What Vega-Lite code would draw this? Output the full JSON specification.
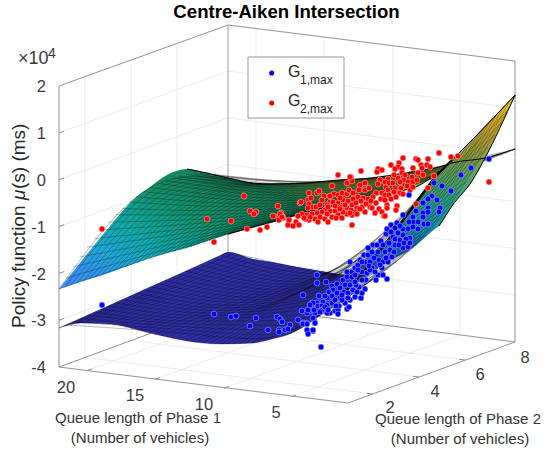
{"$schema":"https://vega.github.io/schema/vega-lite/v6.json","width":544,"height":452,"autosize":{"type":"fit","contains":"padding"},"padding":0,"background":"white","config":{"view":{"stroke":null},"text":{"font":"Liberation Sans"}},
"datasets":{
"grid":[{"l":"a1","x":85,"y":357.4},{"l":"a1","x":85,"y":76.6},{"l":"a2","x":131,"y":340.4},{"l":"a2","x":131,"y":60},{"l":"a3","x":177,"y":323.5},{"l":"a3","x":177,"y":43.5},
{"l":"b1","x":256,"y":308.6},{"l":"b1","x":256,"y":28.5},{"l":"b2","x":324,"y":317.4},{"l":"b2","x":324,"y":37},{"l":"b3","x":393,"y":326.3},{"l":"b3","x":393,"y":45.7},{"l":"b4","x":460,"y":334.9},{"l":"b4","x":460,"y":54},
{"l":"z1","x":59,"y":320.2},{"l":"z1","x":228,"y":258.2},{"l":"z1","x":515,"y":295.2},{"l":"z2","x":59,"y":273.4},{"l":"z2","x":228,"y":211.4},{"l":"z2","x":515,"y":248.4},{"l":"z3","x":59,"y":226.6},{"l":"z3","x":228,"y":164.6},{"l":"z3","x":515,"y":201.6},{"l":"z4","x":59,"y":179.8},{"l":"z4","x":228,"y":117.8},{"l":"z4","x":515,"y":154.8},{"l":"z5","x":59,"y":133},{"l":"z5","x":228,"y":71},{"l":"z5","x":515,"y":108},
{"l":"f1","x":85,"y":357.4},{"l":"f1","x":373,"y":394},{"l":"f2","x":131,"y":340.4},{"l":"f2","x":419,"y":377},{"l":"f3","x":177,"y":323.5},{"l":"f3","x":465,"y":360},
{"l":"g1","x":87,"y":370.6},{"l":"g1","x":256,"y":308.6},{"l":"g2","x":155,"y":379.4},{"l":"g2","x":324,"y":317.4},{"l":"g3","x":224,"y":388.3},{"l":"g3","x":393,"y":326.3},{"l":"g4","x":291,"y":396.9},{"l":"g4","x":460,"y":334.9}],
"axes":[{"l":"a","x":59,"y":86},{"l":"a","x":59,"y":367},{"l":"b","x":59,"y":86},{"l":"b","x":228,"y":25},{"l":"c","x":228,"y":25},{"l":"c","x":515,"y":61},{"l":"d","x":515,"y":61},{"l":"d","x":515,"y":342},{"l":"e","x":59,"y":367},{"l":"e","x":348,"y":403},{"l":"f","x":348,"y":403},{"l":"f","x":515,"y":342},{"l":"g","x":59,"y":367},{"l":"g","x":228,"y":305},{"l":"h","x":228,"y":305},{"l":"h","x":515,"y":342},
{"l":"t1","x":87,"y":370.6},{"l":"t1","x":92,"y":368.8},{"l":"t2","x":155,"y":379.4},{"l":"t2","x":160,"y":377.6},{"l":"t3","x":224,"y":388.3},{"l":"t3","x":229,"y":386.5},{"l":"t4","x":291,"y":396.9},{"l":"t4","x":296,"y":395.1},
{"l":"t5","x":373,"y":394},{"l":"t5","x":367,"y":393.3},{"l":"t6","x":419,"y":377},{"l":"t6","x":413,"y":376.3},{"l":"t7","x":465,"y":360},{"l":"t7","x":459,"y":359.3},
{"l":"t8","x":59,"y":320.2},{"l":"t8","x":64,"y":318.4},{"l":"t9","x":59,"y":273.4},{"l":"t9","x":64,"y":271.6},{"l":"t10","x":59,"y":226.6},{"l":"t10","x":64,"y":224.8},{"l":"t11","x":59,"y":179.8},{"l":"t11","x":64,"y":178},{"l":"t12","x":59,"y":133},{"l":"t12","x":64,"y":131.2}],
"back":[{"l":"v","x":228,"y":25},{"l":"v","x":228,"y":305}],
"s2":[{"x":59,"y":289,"y2":289},{"x":83,"y":259,"y2":281},{"x":100,"y":238,"y2":276},{"x":110,"y":226,"y2":272.5},{"x":133,"y":200,"y2":264},{"x":150,"y":187,"y2":258},{"x":167,"y":175,"y2":253},{"x":187,"y":169,"y2":248},{"x":207,"y":173,"y2":241},{"x":228,"y":178,"y2":234},{"x":253,"y":183,"y2":227},{"x":272,"y":184,"y2":222},{"x":305,"y":183,"y2":212.5},{"x":339,"y":180,"y2":204.5},{"x":347,"y":179.5,"y2":203},{"x":372,"y":178,"y2":196},{"x":405,"y":173,"y2":190},{"x":418,"y":170.5,"y2":186},{"x":439,"y":167,"y2":171},{"x":452,"y":163,"y2":165},{"x":485,"y":158,"y2":159},{"x":515,"y":149,"y2":149}],
"s1a":[{"x":59,"y":328,"y2":328},{"x":80,"y":318.5,"y2":323},{"x":110,"y":305,"y2":324},{"x":150,"y":287,"y2":333},{"x":187,"y":270.4,"y2":341},{"x":220,"y":255.5,"y2":344},{"x":228,"y":252,"y2":344},{"x":253,"y":259,"y2":343},{"x":272,"y":262,"y2":339},{"x":292,"y":266,"y2":333},{"x":315,"y":270,"y2":319},{"x":339,"y":274,"y2":298},{"x":347,"y":275,"y2":290}],
"s1b":[{"x":347,"y":275,"y2":290},{"x":370,"y":255,"y2":274.5},{"x":389,"y":238,"y2":261},{"x":392,"y":235,"y2":259.5},{"x":410,"y":211,"y2":250},{"x":435,"y":177,"y2":229},{"x":439,"y":173,"y2":226},{"x":452,"y":160,"y2":206},{"x":472,"y":140,"y2":181},{"x":485,"y":126,"y2":158},{"x":515,"y":95,"y2":95}],
"m2":[{"l":"k0","x":59,"y":289},{"l":"k0","x":144,"y":191.5},{"l":"k0","x":228,"y":178},{"l":"k1","x":71,"y":285},{"l":"k1","x":156,"y":194},{"l":"k1","x":240,"y":180.5},{"l":"k2","x":83,"y":281.5},{"l":"k2","x":168,"y":196},{"l":"k2","x":252,"y":183},{"l":"k3","x":95,"y":277.5},{"l":"k3","x":180,"y":198},{"l":"k3","x":264,"y":184},{"l":"k4","x":107,"y":273.5},{"l":"k4","x":192,"y":199},{"l":"k4","x":276,"y":184},{"l":"k5","x":119,"y":269},{"l":"k5","x":204,"y":199},{"l":"k5","x":288,"y":183.5},{"l":"k6","x":131,"y":265},{"l":"k6","x":216,"y":199},{"l":"k6","x":300,"y":183},{"l":"k7","x":143,"y":260.5},{"l":"k7","x":228,"y":199.5},{"l":"k7","x":312,"y":182.5},{"l":"k8","x":155,"y":256.5},{"l":"k8","x":240,"y":200},{"l":"k8","x":324,"y":181.5},{"l":"k9","x":167,"y":253},{"l":"k9","x":252,"y":200.5},{"l":"k9","x":336,"y":180},{"l":"k10","x":179,"y":250},{"l":"k10","x":264,"y":201},{"l":"k10","x":348,"y":179.5},{"l":"k11","x":191,"y":246.5},{"l":"k11","x":276,"y":201},{"l":"k11","x":360,"y":179},{"l":"k12","x":203,"y":243},{"l":"k12","x":288,"y":200.5},{"l":"k12","x":372,"y":178},{"l":"k13","x":215,"y":238.5},{"l":"k13","x":300,"y":199.5},{"l":"k13","x":384,"y":176.5},{"l":"k14","x":227,"y":234.5},{"l":"k14","x":312,"y":198.5},{"l":"k14","x":396,"y":174.5},{"l":"k15","x":239,"y":231},{"l":"k15","x":324,"y":198},{"l":"k15","x":408,"y":172.5},{"l":"k16","x":251,"y":228},{"l":"k16","x":336,"y":197},{"l":"k16","x":420,"y":170},{"l":"k17","x":263,"y":224.5},{"l":"k17","x":348,"y":195},{"l":"k17","x":432,"y":168},{"l":"k18","x":275,"y":221},{"l":"k18","x":360,"y":193},{"l":"k18","x":444,"y":165.5},{"l":"k19","x":287,"y":217.5},{"l":"k19","x":372,"y":191},{"l":"k19","x":456,"y":162.5},{"l":"k20","x":299,"y":213},{"l":"k20","x":384,"y":188},{"l":"k20","x":468,"y":160.5},{"l":"k21","x":311,"y":210.5},{"l":"k21","x":396,"y":187},{"l":"k21","x":480,"y":159},{"l":"k22","x":323,"y":208},{"l":"k22","x":408,"y":184},{"l":"k22","x":492,"y":156},{"l":"k23","x":335,"y":205.5},{"l":"k23","x":420,"y":182},{"l":"k23","x":504,"y":152.5},{"l":"k24","x":347,"y":203},{"l":"k24","x":432,"y":179},{"l":"k24","x":516,"y":149},
{"l":"h0","x":65,"y":287},{"l":"h0","x":150,"y":192.75},{"l":"h0","x":234,"y":179.25},{"l":"h1","x":77,"y":283.25},{"l":"h1","x":162,"y":195},{"l":"h1","x":246,"y":181.75},{"l":"h2","x":89,"y":279.5},{"l":"h2","x":174,"y":197},{"l":"h2","x":258,"y":183.5},{"l":"h3","x":101,"y":275.5},{"l":"h3","x":186,"y":198.5},{"l":"h3","x":270,"y":184},{"l":"h4","x":113,"y":271.25},{"l":"h4","x":198,"y":199},{"l":"h4","x":282,"y":183.75},{"l":"h5","x":125,"y":267},{"l":"h5","x":210,"y":199},{"l":"h5","x":294,"y":183.25},{"l":"h6","x":137,"y":262.75},{"l":"h6","x":222,"y":199.25},{"l":"h6","x":306,"y":182.75},{"l":"h7","x":149,"y":258.5},{"l":"h7","x":234,"y":199.75},{"l":"h7","x":318,"y":182},{"l":"h8","x":161,"y":254.75},{"l":"h8","x":246,"y":200.25},{"l":"h8","x":330,"y":180.75},{"l":"h9","x":173,"y":251.5},{"l":"h9","x":258,"y":200.75},{"l":"h9","x":342,"y":179.75},{"l":"h10","x":185,"y":248.25},{"l":"h10","x":270,"y":201},{"l":"h10","x":354,"y":179.25},{"l":"h11","x":197,"y":244.75},{"l":"h11","x":282,"y":200.75},{"l":"h11","x":366,"y":178.5},{"l":"h12","x":209,"y":240.75},{"l":"h12","x":294,"y":200},{"l":"h12","x":378,"y":177.25},{"l":"h13","x":221,"y":236.5},{"l":"h13","x":306,"y":199},{"l":"h13","x":390,"y":175.5},{"l":"h14","x":233,"y":232.75},{"l":"h14","x":318,"y":198.25},{"l":"h14","x":402,"y":173.5},{"l":"h15","x":245,"y":229.5},{"l":"h15","x":330,"y":197.5},{"l":"h15","x":414,"y":171.25},{"l":"h16","x":257,"y":226.25},{"l":"h16","x":342,"y":196},{"l":"h16","x":426,"y":169},{"l":"h17","x":269,"y":222.75},{"l":"h17","x":354,"y":194},{"l":"h17","x":438,"y":166.75},{"l":"h18","x":281,"y":219.25},{"l":"h18","x":366,"y":192},{"l":"h18","x":450,"y":164},{"l":"h19","x":293,"y":215.25},{"l":"h19","x":378,"y":189.5},{"l":"h19","x":462,"y":161.5},{"l":"h20","x":305,"y":211.75},{"l":"h20","x":390,"y":187.5},{"l":"h20","x":474,"y":159.75},{"l":"h21","x":317,"y":209.25},{"l":"h21","x":402,"y":185.5},{"l":"h21","x":486,"y":157.5},{"l":"h22","x":329,"y":206.75},{"l":"h22","x":414,"y":183},{"l":"h22","x":498,"y":154.25},{"l":"h23","x":341,"y":204.25},{"l":"h23","x":426,"y":180.5},{"l":"h23","x":510,"y":150.75},
{"l":"j0","x":59,"y":289},{"l":"j0","x":155,"y":256.5},{"l":"j0","x":251,"y":228},{"l":"j0","x":347,"y":203},
{"l":"j1","x":73,"y":266.9},{"l":"j1","x":169,"y":244.5},{"l":"j1","x":265,"y":222.6},{"l":"j1","x":361,"y":199.5},
{"l":"j2","x":87,"y":247.2},{"l":"j2","x":183,"y":233.4},{"l":"j2","x":279,"y":217.3},{"l":"j2","x":375,"y":195.6},
{"l":"j3","x":101,"y":229.7},{"l":"j3","x":197,"y":223.5},{"l":"j3","x":293,"y":212},{"l":"j3","x":389,"y":191.8},
{"l":"j4","x":115,"y":214.6},{"l":"j4","x":211,"y":214.6},{"l":"j4","x":307,"y":206.9},{"l":"j4","x":403,"y":187.6},
{"l":"j5","x":129,"y":201.9},{"l":"j5","x":225,"y":206.7},{"l":"j5","x":321,"y":201.9},{"l":"j5","x":417,"y":183.4},
{"l":"j6","x":143.5,"y":191.5},{"l":"j6","x":239.5,"y":200},{"l":"j6","x":335.5,"y":197},{"l":"j6","x":431.5,"y":179},
{"l":"j7","x":157.6,"y":183.4},{"l":"j7","x":253.6,"y":194.2},{"l":"j7","x":349.6,"y":192.2},{"l":"j7","x":445.6,"y":174.4},
{"l":"j8","x":172,"y":177.7},{"l":"j8","x":268,"y":189.6},{"l":"j8","x":364,"y":187.6},{"l":"j8","x":460,"y":169.6},
{"l":"j9","x":186,"y":174.3},{"l":"j9","x":282,"y":186},{"l":"j9","x":378,"y":183.1},{"l":"j9","x":474,"y":164.8},
{"l":"j10","x":200,"y":173.2},{"l":"j10","x":296,"y":183.4},{"l":"j10","x":392,"y":178.7},{"l":"j10","x":488,"y":159.6},
{"l":"j11","x":214,"y":174.4},{"l":"j11","x":310,"y":182},{"l":"j11","x":406,"y":174.3},{"l":"j11","x":502,"y":154.4},
{"l":"j12","x":228,"y":178},{"l":"j12","x":324,"y":181.5},{"l":"j12","x":420,"y":170},{"l":"j12","x":516,"y":149},
{"l":"i0","x":66,"y":278},{"l":"i0","x":162,"y":250.5},{"l":"i0","x":258,"y":225.3},{"l":"i0","x":354,"y":201.25},
{"l":"i1","x":80,"y":257},{"l":"i1","x":176,"y":239},{"l":"i1","x":272,"y":220},{"l":"i1","x":368,"y":197.5},
{"l":"i2","x":94,"y":238.5},{"l":"i2","x":190,"y":228.5},{"l":"i2","x":286,"y":214.7},{"l":"i2","x":382,"y":193.7},
{"l":"i3","x":108,"y":222.2},{"l":"i3","x":204,"y":219},{"l":"i3","x":300,"y":209.5},{"l":"i3","x":396,"y":189.7},
{"l":"i4","x":122,"y":208.3},{"l":"i4","x":218,"y":210.7},{"l":"i4","x":314,"y":204.4},{"l":"i4","x":410,"y":185.5},
{"l":"i5","x":136,"y":196.7},{"l":"i5","x":232,"y":203.4},{"l":"i5","x":328,"y":199.5},{"l":"i5","x":424,"y":181.2},
{"l":"i6","x":150.5,"y":187.5},{"l":"i6","x":246.5,"y":197.1},{"l":"i6","x":342.5,"y":194.6},{"l":"i6","x":438.5,"y":176.7},
{"l":"i7","x":165,"y":180.5},{"l":"i7","x":261,"y":191.9},{"l":"i7","x":357,"y":189.9},{"l":"i7","x":453,"y":172},
{"l":"i8","x":179,"y":176},{"l":"i8","x":275,"y":187.8},{"l":"i8","x":371,"y":185.4},{"l":"i8","x":467,"y":167.2},
{"l":"i9","x":193,"y":173.7},{"l":"i9","x":289,"y":184.7},{"l":"i9","x":385,"y":180.9},{"l":"i9","x":481,"y":162.2},
{"l":"i10","x":207,"y":173.8},{"l":"i10","x":303,"y":182.7},{"l":"i10","x":399,"y":176.5},{"l":"i10","x":495,"y":157},
{"l":"i11","x":221,"y":176.2},{"l":"i11","x":317,"y":181.7},{"l":"i11","x":413,"y":172.2},{"l":"i11","x":509,"y":151.7}],
"m1":[{"l":"k0","x":59,"y":328},{"l":"k0","x":144,"y":290},{"l":"k0","x":228,"y":252},{"l":"k1","x":71,"y":325},{"l":"k1","x":156,"y":290},{"l":"k1","x":240,"y":254.7},{"l":"k2","x":83,"y":323},{"l":"k2","x":168,"y":290.2},{"l":"k2","x":252,"y":257.5},{"l":"k3","x":95,"y":323},{"l":"k3","x":180,"y":291.5},{"l":"k3","x":264,"y":260},{"l":"k4","x":107,"y":324},{"l":"k4","x":192,"y":293.5},{"l":"k4","x":276,"y":263},{"l":"k5","x":119,"y":326},{"l":"k5","x":204,"y":295.5},{"l":"k5","x":288,"y":265},{"l":"k6","x":131,"y":329},{"l":"k6","x":216,"y":298},{"l":"k6","x":300,"y":267},{"l":"k7","x":143,"y":331},{"l":"k7","x":228,"y":300},{"l":"k7","x":312,"y":269},{"l":"k8","x":155,"y":334},{"l":"k8","x":240,"y":302.5},{"l":"k8","x":324,"y":271},{"l":"k9","x":167,"y":337},{"l":"k9","x":252,"y":305},{"l":"k9","x":336,"y":273},{"l":"k10","x":179,"y":339},{"l":"k10","x":264,"y":305.75},{"l":"k10","x":348,"y":272.5},{"l":"k11","x":191,"y":341.5},{"l":"k11","x":276,"y":303},{"l":"k11","x":360,"y":262},{"l":"k12","x":203,"y":342.5},{"l":"k12","x":288,"y":299},{"l":"k12","x":372,"y":252},{"l":"k13","x":215,"y":344},{"l":"k13","x":300,"y":297},{"l":"k13","x":384,"y":242},{"l":"k14","x":227,"y":344},{"l":"k14","x":312,"y":293},{"l":"k14","x":396,"y":230},{"l":"k15","x":239,"y":343.5},{"l":"k15","x":324,"y":287},{"l":"k15","x":408,"y":213},{"l":"k16","x":251,"y":343},{"l":"k16","x":336,"y":282},{"l":"k16","x":420,"y":197},{"l":"k17","x":263,"y":341},{"l":"k17","x":348,"y":276},{"l":"k17","x":432,"y":181},{"l":"k18","x":275,"y":338},{"l":"k18","x":360,"y":271},{"l":"k18","x":444,"y":168},{"l":"k19","x":287,"y":335},{"l":"k19","x":372,"y":266.5},{"l":"k19","x":456,"y":156},{"l":"k20","x":299,"y":329},{"l":"k20","x":384,"y":261.5},{"l":"k20","x":468,"y":144},{"l":"k21","x":311,"y":321.5},{"l":"k21","x":396,"y":254},{"l":"k21","x":480,"y":132},{"l":"k22","x":323,"y":312},{"l":"k22","x":408,"y":245},{"l":"k22","x":492,"y":118},{"l":"k23","x":335,"y":302},{"l":"k23","x":420,"y":237},{"l":"k23","x":504,"y":106},{"l":"k24","x":347,"y":290},{"l":"k24","x":432,"y":228},{"l":"k24","x":516,"y":95},
{"l":"h0","x":65,"y":326.5},{"l":"h0","x":150,"y":290},{"l":"h0","x":234,"y":253.4},{"l":"h1","x":77,"y":324},{"l":"h1","x":162,"y":290.1},{"l":"h1","x":246,"y":256.1},{"l":"h2","x":89,"y":323},{"l":"h2","x":174,"y":290.9},{"l":"h2","x":258,"y":258.8},{"l":"h3","x":101,"y":323.5},{"l":"h3","x":186,"y":292.5},{"l":"h3","x":270,"y":261.5},{"l":"h4","x":113,"y":325},{"l":"h4","x":198,"y":294.5},{"l":"h4","x":282,"y":264},{"l":"h5","x":125,"y":327.5},{"l":"h5","x":210,"y":296.8},{"l":"h5","x":294,"y":266},{"l":"h6","x":137,"y":330},{"l":"h6","x":222,"y":299},{"l":"h6","x":306,"y":268},{"l":"h7","x":149,"y":332.5},{"l":"h7","x":234,"y":301.3},{"l":"h7","x":318,"y":270},{"l":"h8","x":161,"y":335.5},{"l":"h8","x":246,"y":303.8},{"l":"h8","x":330,"y":272},{"l":"h9","x":173,"y":338},{"l":"h9","x":258,"y":305.4},{"l":"h9","x":342,"y":272.8},{"l":"h10","x":185,"y":340.3},{"l":"h10","x":270,"y":304.4},{"l":"h10","x":354,"y":267.3},{"l":"h11","x":197,"y":342},{"l":"h11","x":282,"y":301},{"l":"h11","x":366,"y":257},{"l":"h12","x":209,"y":343.3},{"l":"h12","x":294,"y":298},{"l":"h12","x":378,"y":247},{"l":"h13","x":221,"y":344},{"l":"h13","x":306,"y":295},{"l":"h13","x":390,"y":236},{"l":"h14","x":233,"y":343.8},{"l":"h14","x":318,"y":290},{"l":"h14","x":402,"y":221.5},{"l":"h15","x":245,"y":343.3},{"l":"h15","x":330,"y":284.5},{"l":"h15","x":414,"y":205},{"l":"h16","x":257,"y":342},{"l":"h16","x":342,"y":279},{"l":"h16","x":426,"y":189},{"l":"h17","x":269,"y":339.5},{"l":"h17","x":354,"y":273.5},{"l":"h17","x":438,"y":174.5},{"l":"h18","x":281,"y":336.5},{"l":"h18","x":366,"y":268.8},{"l":"h18","x":450,"y":162},{"l":"h19","x":293,"y":332},{"l":"h19","x":378,"y":264},{"l":"h19","x":462,"y":150},{"l":"h20","x":305,"y":325.3},{"l":"h20","x":390,"y":257.8},{"l":"h20","x":474,"y":138},{"l":"h21","x":317,"y":316.8},{"l":"h21","x":402,"y":249.5},{"l":"h21","x":486,"y":125},{"l":"h22","x":329,"y":307},{"l":"h22","x":414,"y":241},{"l":"h22","x":498,"y":112},{"l":"h23","x":341,"y":296},{"l":"h23","x":426,"y":232.5},{"l":"h23","x":510,"y":100.5},
{"l":"j0","x":59,"y":328},{"l":"j0","x":80,"y":323},{"l":"j0","x":110,"y":324},{"l":"j0","x":150,"y":333},{"l":"j0","x":187,"y":341},{"l":"j0","x":220,"y":344},{"l":"j0","x":253,"y":343},{"l":"j0","x":272,"y":339},{"l":"j0","x":292,"y":333},{"l":"j0","x":315,"y":319},{"l":"j0","x":339,"y":298},{"l":"j0","x":347,"y":290},
{"l":"j1","x":73,"y":321.7},{"l":"j1","x":169,"y":328.8},{"l":"j1","x":265,"y":334.6},{"l":"j1","x":361,"y":284.7},
{"l":"j2","x":87,"y":315.3},{"l":"j2","x":183,"y":323.6},{"l":"j2","x":279,"y":325.4},{"l":"j2","x":375,"y":277.2},
{"l":"j3","x":101,"y":309},{"l":"j3","x":197,"y":318.3},{"l":"j3","x":293,"y":315.5},{"l":"j3","x":389,"y":267.9},
{"l":"j4","x":115,"y":302.7},{"l":"j4","x":211,"y":313},{"l":"j4","x":307,"y":305},{"l":"j4","x":403,"y":256.5},
{"l":"j5","x":129,"y":296.3},{"l":"j5","x":225,"y":307.8},{"l":"j5","x":321,"y":293.8},{"l":"j5","x":417,"y":243.3},
{"l":"j6","x":143.5,"y":290},{"l":"j6","x":239.5,"y":302.5},{"l":"j6","x":335.5,"y":282},{"l":"j6","x":431.5,"y":228},
{"l":"j7","x":157.6,"y":283.7},{"l":"j7","x":253.6,"y":297.2},{"l":"j7","x":349.6,"y":269.5},{"l":"j7","x":445.6,"y":210.8},
{"l":"j8","x":172,"y":277.3},{"l":"j8","x":268,"y":292},{"l":"j8","x":364,"y":256.4},{"l":"j8","x":460,"y":191.6},
{"l":"j9","x":186,"y":271},{"l":"j9","x":282,"y":286.7},{"l":"j9","x":378,"y":242.5},{"l":"j9","x":474,"y":170.3},
{"l":"j10","x":200,"y":264.7},{"l":"j10","x":296,"y":281.6},{"l":"j10","x":392,"y":228.1},{"l":"j10","x":488,"y":147.3},
{"l":"j11","x":214,"y":258.3},{"l":"j11","x":310,"y":276.2},{"l":"j11","x":406,"y":212.9},{"l":"j11","x":502,"y":122.2},
{"l":"j12","x":228,"y":252},{"l":"j12","x":272,"y":262},{"l":"j12","x":345,"y":275},{"l":"j12","x":392,"y":235},{"l":"j12","x":435,"y":177},{"l":"j12","x":472,"y":140},{"l":"j12","x":516,"y":95},
{"l":"i0","x":66,"y":324.9},{"l":"i0","x":162,"y":331.4},{"l":"i0","x":258,"y":338.8},{"l":"i0","x":354,"y":287.4},
{"l":"i1","x":80,"y":318.5},{"l":"i1","x":176,"y":326.2},{"l":"i1","x":272,"y":330},{"l":"i1","x":368,"y":281},
{"l":"i2","x":94,"y":312.2},{"l":"i2","x":190,"y":321},{"l":"i2","x":286,"y":320.5},{"l":"i2","x":382,"y":272.6},
{"l":"i3","x":108,"y":305.9},{"l":"i3","x":204,"y":315.7},{"l":"i3","x":300,"y":310.3},{"l":"i3","x":396,"y":262.2},
{"l":"i4","x":122,"y":299.5},{"l":"i4","x":218,"y":310.4},{"l":"i4","x":314,"y":299.4},{"l":"i4","x":410,"y":249.9},
{"l":"i5","x":136,"y":293.2},{"l":"i5","x":232,"y":305.2},{"l":"i5","x":328,"y":287.9},{"l":"i5","x":424,"y":235.7},
{"l":"i6","x":150.5,"y":286.9},{"l":"i6","x":246.5,"y":299.9},{"l":"i6","x":342.5,"y":275.8},{"l":"i6","x":438.5,"y":219.4},
{"l":"i7","x":165,"y":280.5},{"l":"i7","x":261,"y":294.6},{"l":"i7","x":357,"y":263},{"l":"i7","x":453,"y":201.2},
{"l":"i8","x":179,"y":274.2},{"l":"i8","x":275,"y":289.4},{"l":"i8","x":371,"y":249.5},{"l":"i8","x":467,"y":181},
{"l":"i9","x":193,"y":267.9},{"l":"i9","x":289,"y":284.2},{"l":"i9","x":385,"y":235.3},{"l":"i9","x":481,"y":158.8},
{"l":"i10","x":207,"y":261.5},{"l":"i10","x":303,"y":278.9},{"l":"i10","x":399,"y":220.5},{"l":"i10","x":495,"y":134.8},
{"l":"i11","x":221,"y":255.2},{"l":"i11","x":317,"y":273.6},{"l":"i11","x":413,"y":205},{"l":"i11","x":509,"y":108.6}],
"edges":[{"l":"a","x":187,"y":169},{"l":"a","x":207,"y":173},{"l":"a","x":228,"y":178},{"l":"a","x":253,"y":183},{"l":"a","x":272,"y":184},{"l":"a","x":305,"y":183},{"l":"a","x":339,"y":180},{"l":"a","x":372,"y":178},{"l":"a","x":405,"y":173},{"l":"a","x":439,"y":167},{"l":"a","x":452,"y":163},{"l":"a","x":485,"y":158},{"l":"a","x":515,"y":149},
{"l":"b","x":228,"y":234},{"l":"b","x":253,"y":227},{"l":"b","x":272,"y":222},{"l":"b","x":305,"y":212.5},{"l":"b","x":339,"y":204.5},{"l":"b","x":347,"y":203},{"l":"b","x":372,"y":196},{"l":"b","x":405,"y":190},{"l":"b","x":418,"y":186},{"l":"b","x":439,"y":171},
{"l":"c","x":339,"y":298},{"l":"c","x":360,"y":277},{"l":"c","x":392,"y":235},{"l":"c","x":435,"y":177},{"l":"c","x":452,"y":160},
{"l":"d","x":452,"y":160},{"l":"d","x":472,"y":140},{"l":"d","x":515,"y":95},{"l":"e","x":439,"y":226},{"l":"e","x":452,"y":206},{"l":"e","x":472,"y":181},{"l":"e","x":485,"y":158},{"l":"e","x":515,"y":95}],
"red":[{"x":102,"y":229},{"x":214,"y":242},{"x":247,"y":229},{"x":260,"y":230},{"x":267,"y":227},{"x":244,"y":196},{"x":207,"y":219},{"x":231,"y":221},{"x":250,"y":211},{"x":256,"y":212},{"x":254,"y":214},{"x":278,"y":206},{"x":273,"y":216},{"x":281,"y":213},{"x":279,"y":216},{"x":283,"y":217},{"x":279,"y":220},{"x":289,"y":220},{"x":288,"y":225},{"x":298,"y":216},{"x":300,"y":203},{"x":338,"y":175},{"x":361,"y":171},{"x":351,"y":177},{"x":378,"y":169},{"x":377,"y":172},{"x":347,"y":183},{"x":352,"y":181},{"x":380,"y":180},{"x":332,"y":186},{"x":365,"y":183},{"x":360,"y":185},{"x":378,"y":184},{"x":309,"y":193},{"x":317,"y":193},{"x":319,"y":191},{"x":324,"y":196},{"x":322,"y":200},{"x":308,"y":200},{"x":301,"y":202},{"x":309,"y":204},{"x":313,"y":207},{"x":308,"y":208},{"x":316,"y":207},{"x":330,"y":202},{"x":334,"y":194},{"x":338,"y":195},{"x":342,"y":193},{"x":347,"y":194},{"x":349,"y":190},{"x":353,"y":193},{"x":359,"y":190},{"x":365,"y":190},{"x":369,"y":188},{"x":376,"y":193},{"x":382,"y":193},{"x":386,"y":187},{"x":388,"y":195},{"x":333,"y":202},{"x":338,"y":203},{"x":343,"y":200},{"x":348,"y":201},{"x":353,"y":199},{"x":358,"y":197},{"x":363,"y":198},{"x":368,"y":199},{"x":373,"y":197},{"x":337,"y":207},{"x":342,"y":207},{"x":347,"y":208},{"x":352,"y":205},{"x":357,"y":208},{"x":362,"y":207},{"x":325,"y":210},{"x":330,"y":211},{"x":335,"y":211},{"x":322,"y":212},{"x":317,"y":213},{"x":312,"y":214},{"x":307,"y":215},{"x":302,"y":214},{"x":298,"y":216},{"x":320,"y":217},{"x":315,"y":219},{"x":309,"y":220},{"x":306,"y":219},{"x":325,"y":219},{"x":332,"y":217},{"x":327,"y":214},{"x":338,"y":215},{"x":347,"y":214},{"x":352,"y":215},{"x":343,"y":212},{"x":355,"y":212},{"x":360,"y":209},{"x":370,"y":207},{"x":372,"y":208},{"x":379,"y":209},{"x":382,"y":212},{"x":384,"y":216},{"x":352,"y":225},{"x":288,"y":225},{"x":289,"y":220},{"x":283,"y":218},{"x":280,"y":214},{"x":282,"y":217},{"x":403,"y":158},{"x":416,"y":159},{"x":418,"y":160},{"x":428,"y":159},{"x":439,"y":153},{"x":451,"y":157},{"x":391,"y":165},{"x":399,"y":163},{"x":398,"y":167},{"x":395,"y":169},{"x":402,"y":169},{"x":413,"y":168},{"x":421,"y":165},{"x":427,"y":165},{"x":430,"y":167},{"x":422,"y":168},{"x":418,"y":173},{"x":423,"y":175},{"x":434,"y":176},{"x":412,"y":177},{"x":402,"y":173},{"x":398,"y":178},{"x":404,"y":180},{"x":408,"y":182},{"x":413,"y":182},{"x":388,"y":179},{"x":385,"y":182},{"x":389,"y":183},{"x":393,"y":183},{"x":400,"y":182},{"x":395,"y":188},{"x":401,"y":188},{"x":410,"y":190},{"x":388,"y":190},{"x":385,"y":195},{"x":389,"y":195},{"x":394,"y":192},{"x":400,"y":193},{"x":428,"y":188},{"x":416,"y":204},{"x":397,"y":206},{"x":396,"y":210},{"x":387,"y":205},{"x":387,"y":208},{"x":385,"y":216},{"x":489,"y":182},{"x":458,"y":156},{"x":382,"y":170},{"x":350,"y":177},{"x":311,"y":198},{"x":327,"y":205},{"x":340,"y":198},{"x":345,"y":205},{"x":351,"y":210},{"x":356,"y":203},{"x":361,"y":201},{"x":366,"y":204},{"x":371,"y":201},{"x":376,"y":203},{"x":381,"y":199},{"x":385,"y":200},{"x":391,"y":199},{"x":396,"y":197},{"x":403,"y":194},{"x":407,"y":186},{"x":413,"y":187},{"x":417,"y":180},{"x":394,"y":175},{"x":405,"y":175},{"x":330,"y":196},{"x":320,"y":205},{"x":328,"y":207},{"x":335,"y":206},{"x":340,"y":209},{"x":350,"y":213},{"x":357,"y":214},{"x":365,"y":212},{"x":375,"y":213},{"x":296,"y":222},{"x":304,"y":218},{"x":310,"y":217},{"x":336,"y":218},{"x":342,"y":218},{"x":318,"y":222},{"x":328,"y":222},{"x":293,"y":226},{"x":299,"y":225}],
"blue":[{"x":102,"y":305},{"x":214,"y":314},{"x":231,"y":317},{"x":236,"y":316},{"x":256,"y":318},{"x":250,"y":326},{"x":268,"y":330},{"x":277,"y":317},{"x":280,"y":319},{"x":282,"y":322},{"x":290,"y":325},{"x":279,"y":330},{"x":279,"y":332},{"x":285,"y":330},{"x":288,"y":329},{"x":298,"y":320},{"x":303,"y":323},{"x":307,"y":323},{"x":302,"y":311},{"x":303,"y":295},{"x":309,"y":311},{"x":307,"y":313},{"x":312,"y":303},{"x":317,"y":303},{"x":314,"y":320},{"x":315,"y":323},{"x":307,"y":330},{"x":313,"y":331},{"x":308,"y":334},{"x":317,"y":308},{"x":315,"y":313},{"x":321,"y":347},{"x":317,"y":275},{"x":317,"y":283},{"x":326,"y":282},{"x":350,"y":262},{"x":332,"y":286},{"x":337,"y":284},{"x":333,"y":290},{"x":329,"y":292},{"x":319,"y":296},{"x":332,"y":296},{"x":327,"y":298},{"x":323,"y":302},{"x":313,"y":303},{"x":308,"y":310},{"x":314,"y":310},{"x":318,"y":306},{"x":322,"y":306},{"x":327,"y":305},{"x":332,"y":303},{"x":337,"y":293},{"x":340,"y":288},{"x":343,"y":280},{"x":347,"y":272},{"x":352,"y":272},{"x":355,"y":268},{"x":347,"y":277},{"x":352,"y":277},{"x":345,"y":285},{"x":350,"y":285},{"x":355,"y":275},{"x":358,"y":265},{"x":360,"y":260},{"x":364,"y":255},{"x":368,"y":255},{"x":365,"y":262},{"x":370,"y":262},{"x":362,"y":272},{"x":367,"y":273},{"x":372,"y":268},{"x":366,"y":280},{"x":376,"y":280},{"x":378,"y":275},{"x":383,"y":275},{"x":387,"y":279},{"x":382,"y":268},{"x":379,"y":260},{"x":383,"y":262},{"x":388,"y":262},{"x":374,"y":258},{"x":385,"y":252},{"x":390,"y":250},{"x":394,"y":252},{"x":373,"y":245},{"x":377,"y":245},{"x":381,"y":241},{"x":368,"y":248},{"x":389,"y":243},{"x":395,"y":245},{"x":400,"y":240},{"x":405,"y":240},{"x":397,"y":232},{"x":386,"y":234},{"x":403,"y":248},{"x":408,"y":247},{"x":335,"y":311},{"x":338,"y":310},{"x":347,"y":309},{"x":349,"y":307},{"x":339,"y":306},{"x":345,"y":303},{"x":350,"y":300},{"x":355,"y":297},{"x":361,"y":298},{"x":362,"y":293},{"x":365,"y":289},{"x":359,"y":287},{"x":356,"y":285},{"x":330,"y":313},{"x":327,"y":313},{"x":338,"y":314},{"x":313,"y":318},{"x":315,"y":323},{"x":303,"y":324},{"x":307,"y":324},{"x":313,"y":330},{"x":322,"y":310},{"x":325,"y":307},{"x":310,"y":305},{"x":340,"y":298},{"x":342,"y":300},{"x":489,"y":159},{"x":471,"y":168},{"x":461,"y":175},{"x":442,"y":186},{"x":434,"y":183},{"x":451,"y":191},{"x":432,"y":196},{"x":437,"y":200},{"x":409,"y":195},{"x":428,"y":199},{"x":423,"y":203},{"x":440,"y":208},{"x":439,"y":212},{"x":416,"y":211},{"x":428,"y":208},{"x":423,"y":213},{"x":428,"y":212},{"x":423,"y":217},{"x":403,"y":215},{"x":413,"y":217},{"x":413,"y":222},{"x":418,"y":222},{"x":424,"y":224},{"x":428,"y":224},{"x":397,"y":223},{"x":391,"y":225},{"x":387,"y":229},{"x":395,"y":228},{"x":403,"y":229},{"x":408,"y":229},{"x":413,"y":227},{"x":418,"y":229},{"x":403,"y":235},{"x":393,"y":237},{"x":398,"y":233},{"x":410,"y":238},{"x":406,"y":239},{"x":395,"y":239},{"x":344,"y":292},{"x":348,"y":293},{"x":353,"y":290},{"x":357,"y":292},{"x":335,"y":300},{"x":328,"y":310},{"x":320,"y":312},{"x":336,"y":306},{"x":342,"y":295},{"x":370,"y":270},{"x":375,"y":272},{"x":380,"y":265},{"x":386,"y":258},{"x":392,"y":257},{"x":399,"y":245},{"x":404,"y":243},{"x":378,"y":252},{"x":369,"y":266},{"x":362,"y":280},{"x":355,"y":282},{"x":348,"y":298},{"x":358,"y":270},{"x":362,"y":262},{"x":372,"y":252},{"x":391,"y":232},{"x":400,"y":226},{"x":409,"y":222},{"x":383,"y":245},{"x":410,"y":243},{"x":325,"y":296}]
},
"encoding":{"x":{"field":"x","type":"quantitative","scale":{"domain":[0,544],"nice":false,"zero":false},"axis":null},"y":{"field":"y","type":"quantitative","scale":{"domain":[452,0],"nice":false,"zero":false},"axis":null}},
"layer":[
{"data":{"name":"grid"},"mark":{"type":"line","stroke":"#e6e6e6","strokeWidth":0.8},"encoding":{"detail":{"field":"l"}}},
{"data":{"name":"back"},"mark":{"type":"line","stroke":"#c4c4c4","strokeWidth":1.6},"encoding":{"detail":{"field":"l"}}},
{"data":{"name":"axes"},"mark":{"type":"line","stroke":"#858585","strokeWidth":0.9},"encoding":{"detail":{"field":"l"}}},
{"data":{"name":"s2"},"mark":{"type":"area","interpolate":"monotone","color":{"gradient":"linear","x1":0,"y1":1,"x2":1,"y2":0.4,"stops":[{"offset":0,"color":"#3f8cf5"},{"offset":0.1,"color":"#3496ec"},{"offset":0.2,"color":"#1fa8d4"},{"offset":0.3,"color":"#13aaa8"},{"offset":0.45,"color":"#12936f"},{"offset":0.65,"color":"#1c7a50"},{"offset":0.8,"color":"#6a9438"},{"offset":1,"color":"#a8a22e"}]}},"encoding":{"y2":{"field":"y2"}}},
{"data":{"name":"m2"},"mark":{"type":"line","stroke":"#000000","strokeWidth":0.45,"strokeOpacity":0.6,"interpolate":"natural"},"encoding":{"detail":{"field":"l"}}},
{"data":{"name":"s1a"},"mark":{"type":"area","interpolate":"monotone","color":"#2e2ea2"},"encoding":{"y2":{"field":"y2"}}},
{"data":{"name":"s1b"},"mark":{"type":"area","interpolate":"monotone","color":{"gradient":"linear","x1":0,"y1":0,"x2":0,"y2":1,"stops":[{"offset":0,"color":"#f8e61a"},{"offset":0.12,"color":"#d4aa2e"},{"offset":0.25,"color":"#a89c35"},{"offset":0.4,"color":"#60a460"},{"offset":0.55,"color":"#2aa48a"},{"offset":0.7,"color":"#1a8cac"},{"offset":0.85,"color":"#2a5ab8"},{"offset":1,"color":"#2a2a96"}]}},"encoding":{"y2":{"field":"y2"}}},
{"data":{"name":"m1"},"mark":{"type":"line","stroke":"#000000","strokeWidth":0.45,"strokeOpacity":0.6,"interpolate":"monotone"},"encoding":{"detail":{"field":"l"}}},
{"data":{"name":"edges"},"transform":[{"filter":"datum.l=='a'||datum.l=='b'||datum.l=='d'||datum.l=='e'"}],"mark":{"type":"line","stroke":"#000000","strokeWidth":1,"interpolate":"monotone"},"encoding":{"detail":{"field":"l"}}},
{"data":{"name":"edges"},"transform":[{"filter":"datum.l=='c'"}],"mark":{"type":"line","stroke":"#000000","strokeWidth":2.4},"encoding":{"detail":{"field":"l"}}},
{"data":{"name":"red"},"mark":{"type":"point","filled":true,"fill":"#ff0000","stroke":"#ffd0d0","strokeWidth":0.5,"fillOpacity":1,"strokeOpacity":1,"size":34}},
{"data":{"name":"blue"},"mark":{"type":"point","filled":true,"fill":"#0000ff","stroke":"#c0c8ff","strokeWidth":0.5,"fillOpacity":1,"strokeOpacity":1,"size":34}},
{"data":{"values":[{"x":248,"x2":344,"y":57,"y2":118}]},"mark":{"type":"rect","fill":"white","stroke":"#8c8c8c","strokeWidth":0.9},"encoding":{"x2":{"field":"x2"},"y2":{"field":"y2"}}},
{"data":{"values":[{"x":271.7,"y":73}]},"mark":{"type":"point","filled":true,"fill":"#0000ff","fillOpacity":1,"size":26}},
{"data":{"values":[{"x":271.7,"y":103}]},"mark":{"type":"point","filled":true,"fill":"#ff0000","fillOpacity":1,"size":26}},
{"data":{"values":[{"x":288,"y":77,"t":"G"},{"x":288,"y":106,"t":"G"}]},"mark":{"type":"text","align":"left","baseline":"alphabetic","fontSize":16,"fill":"#262626"},"encoding":{"text":{"field":"t"}}},
{"data":{"values":[{"x":300,"y":83.5,"t":"1,max"},{"x":300,"y":113,"t":"2,max"}]},"mark":{"type":"text","align":"left","baseline":"alphabetic","fontSize":12,"fill":"#262626"},"encoding":{"text":{"field":"t"}}},
{"data":{"values":[{"x":286.5,"y":18,"t":"Centre-Aiken Intersection"}]},"mark":{"type":"text","align":"center","baseline":"alphabetic","fontSize":18.6,"fontWeight":"bold","fill":"#000000"},"encoding":{"text":{"field":"t"}}},
{"data":{"values":[{"x":46,"y":92,"t":"2"},{"x":46,"y":139,"t":"1"},{"x":46,"y":185.5,"t":"0"},{"x":46,"y":232.5,"t":"-1"},{"x":46,"y":279.5,"t":"-2"},{"x":46,"y":326,"t":"-3"},{"x":46,"y":373,"t":"-4"}]},"mark":{"type":"text","align":"right","baseline":"alphabetic","fontSize":16.5,"fill":"#3a3a3a"},"encoding":{"text":{"field":"t"}}},
{"data":{"values":[{"x":66,"y":393,"t":"20"},{"x":135,"y":401,"t":"15"},{"x":204,"y":410,"t":"10"},{"x":276,"y":418,"t":"5"},{"x":390,"y":413,"t":"2"},{"x":435,"y":397,"t":"4"},{"x":480,"y":380,"t":"6"},{"x":525,"y":363,"t":"8"}]},"mark":{"type":"text","align":"center","baseline":"alphabetic","fontSize":16.5,"fill":"#3a3a3a"},"encoding":{"text":{"field":"t"}}},
{"data":{"values":[{"x":18,"y":64,"t":"×10"}]},"mark":{"type":"text","align":"left","baseline":"alphabetic","fontSize":18,"fill":"#3a3a3a"},"encoding":{"text":{"field":"t"}}},
{"data":{"values":[{"x":48,"y":58,"t":"4"}]},"mark":{"type":"text","align":"left","baseline":"alphabetic","fontSize":14,"fill":"#3a3a3a"},"encoding":{"text":{"field":"t"}}},
{"data":{"values":[{"x":138,"y":423,"t":"Queue length of Phase 1"},{"x":140,"y":443,"t":"(Number of vehicles)"},{"x":458,"y":424,"t":"Queue length of Phase 2"},{"x":460,"y":444,"t":"(Number of vehicles)"}]},"mark":{"type":"text","align":"center","baseline":"alphabetic","fontSize":15,"fill":"#333333"},"encoding":{"text":{"field":"t"}}},
{"data":{"values":[{"x":25,"y":328,"t":"Policy function"},{"x":25,"y":189,"t":"(s) (ms)"}]},"mark":{"type":"text","angle":270,"align":"left","baseline":"alphabetic","fontSize":19,"fill":"#262626"},"encoding":{"text":{"field":"t"}}},
{"data":{"values":[{"x":25,"y":200,"t":"μ"}]},"mark":{"type":"text","angle":270,"align":"left","baseline":"alphabetic","fontSize":19,"fontStyle":"italic","fill":"#262626"},"encoding":{"text":{"field":"t"}}}
]}
